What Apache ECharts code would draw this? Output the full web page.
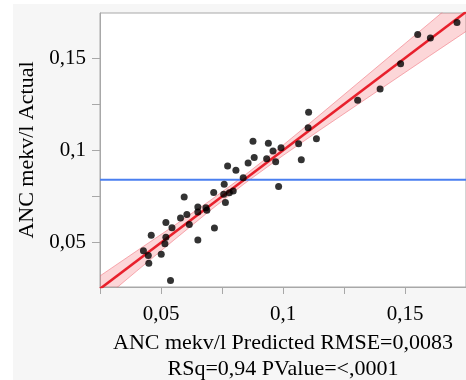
<!DOCTYPE html>
<html><head><meta charset="utf-8">
<script src="https://cdn.jsdelivr.net/npm/echarts@6/dist/echarts.min.js"></script>
<style>html,body{margin:0;padding:0;background:#fff}#c{width:466px;height:380px}</style>
</head><body><div id="c"></div>
<script>
// Data (Actual by Predicted)
const predicted = [0.0877,0.0940,0.0992,0.1064,0.1137,0.0959,0.0882,0.0933,0.0970,0.1075,
  0.0857,0.0773,0.0807,0.0837,0.0982,0.0759,0.0716,0.0796,0.0780,0.0757,
  0.0764,0.0595,0.0651,0.0684,0.0688,0.0651,0.0606,0.0580,0.0520,0.0616,
  0.0545,0.0719,0.0460,0.0520,0.0516,0.0651,0.0428,0.0448,0.0501,0.0450,
  0.0539,0.1105,0.1103,0.1306,0.1398,0.1482,0.1552,0.1604,0.1713];
const actual = [0.1049,0.1038,0.1014,0.1036,0.1063,0.0996,0.0961,0.0955,0.0938,0.0949,
  0.0931,0.0915,0.0892,0.0852,0.0804,0.0816,0.0772,0.0780,0.0771,0.0762,
  0.0718,0.0748,0.0693,0.0689,0.0676,0.0666,0.0653,0.0634,0.0609,0.0598,
  0.0581,0.0580,0.0540,0.0530,0.0494,0.0514,0.0456,0.0430,0.0438,0.0389,
  0.0295,0.1207,0.1122,0.1272,0.1332,0.1469,0.1628,0.1609,0.1692];
const fitX = [0.025, 0.175];
const fitY = [0.025, 0.175];
const bandX     = [0.025,0.04,0.055,0.07,0.084,0.1,0.115,0.13,0.145,0.16,0.175];
const bandLower = [0.0180,0.0346,0.0511,0.0673,0.0818,0.0972,0.1109,0.1243,0.1377,0.1511,0.1644];
const bandUpper = [0.0320,0.0455,0.0589,0.0727,0.0862,0.1028,0.1191,0.1357,0.1523,0.1689,0.1856];
const meanX = [0.025, 0.175];
const meanActual = 0.0841;
const xTicks = [0.025,0.05,0.075,0.1,0.125,0.15,0.175];
const xLabels = [0.05,0.1,0.15];
const yTicks = [0.05,0.075,0.1,0.125,0.15];
const yLabels = [0.05,0.1,0.15];
const xTitle = 'ANC mekv/l Predicted RMSE=0,0083\nRSq=0,94 PValue=<,0001';
const yTitle = 'ANC mekv/l Actual';

const FONT = 'Liberation Serif';
const fmt = v => String(v).replace('.', ',');
const chart = echarts.init(document.getElementById('c'), null, {renderer: 'canvas'});
const axisCol = '#a8a8a8';
chart.setOption({
  animation: false,
  backgroundColor: '#ffffff',
  textStyle: {fontFamily: FONT},
  graphic: [{type: 'rect', z: -10, silent: true, shape: {x: 13, y: 4, width: 460, height: 380}, style: {fill: '#f6f6f6'}}],
  grid: {left: 100, top: 13, right: 0, bottom: 93, containLabel: false, outerBoundsMode: 'none',
    show: true, backgroundColor: '#ffffff', borderColor: axisCol, borderWidth: 1},
  xAxis: {
    type: 'value', min: 0.025, max: 0.175,
    splitLine: {show: false},
    axisLine: {lineStyle: {color: axisCol, width: 1}},
    axisTick: {customValues: xTicks, length: 7, lineStyle: {color: axisCol}},
    axisLabel: {customValues: xLabels, formatter: fmt, margin: 17, color: '#000', fontFamily: FONT, fontSize: 21},
    name: xTitle, nameLocation: 'middle', nameGap: 38,
    nameTextStyle: {color: '#000', fontFamily: FONT, fontSize: 22, lineHeight: 26}
  },
  yAxis: {
    type: 'value', min: 0.026, max: 0.1744,
    splitLine: {show: false},
    axisLine: {lineStyle: {color: axisCol, width: 1}},
    axisTick: {customValues: yTicks, length: 8, lineStyle: {color: axisCol}},
    axisLabel: {customValues: yLabels, formatter: fmt, margin: 14, color: '#000', fontFamily: FONT, fontSize: 21},
    name: yTitle, nameLocation: 'middle', nameGap: 62,
    nameTextStyle: {color: '#000', fontFamily: FONT, fontSize: 22}
  },
  series: [
    {
      type: 'custom', clip: true, z: 1, silent: true,
      data: [0],
      renderItem: function (params, api) {
        const pts = [];
        for (let i = 0; i < bandX.length; i++) pts.push(api.coord([bandX[i], bandUpper[i]]));
        for (let i = bandX.length - 1; i >= 0; i--) pts.push(api.coord([bandX[i], bandLower[i]]));
        return {type: 'polygon', shape: {points: pts}, style: {fill: 'rgba(245,90,100,0.25)'}};
      }
    },
    {type: 'line', z: 2, symbol: 'none', silent: true, data: bandX.map((x, i) => [x, bandUpper[i]]), lineStyle: {color: 'rgba(240,110,120,0.55)', width: 1}},
    {type: 'line', z: 2, symbol: 'none', silent: true, data: bandX.map((x, i) => [x, bandLower[i]]), lineStyle: {color: 'rgba(240,110,120,0.55)', width: 1}},
    {type: 'line', z: 3, symbol: 'none', silent: true, data: meanX.map(x => [x, meanActual]), lineStyle: {color: '#4a7ff0', width: 2}},
    {type: 'line', z: 3, symbol: 'none', silent: true, data: fitX.map((x, i) => [x, fitY[i]]), lineStyle: {color: '#e8202c', width: 2.5}},
    {type: 'scatter', z: 4, symbol: 'circle', symbolSize: 7, itemStyle: {color: '#000'}, data: predicted.map((x, i) => [x, actual[i]])}
  ]
});
</script></body></html>
